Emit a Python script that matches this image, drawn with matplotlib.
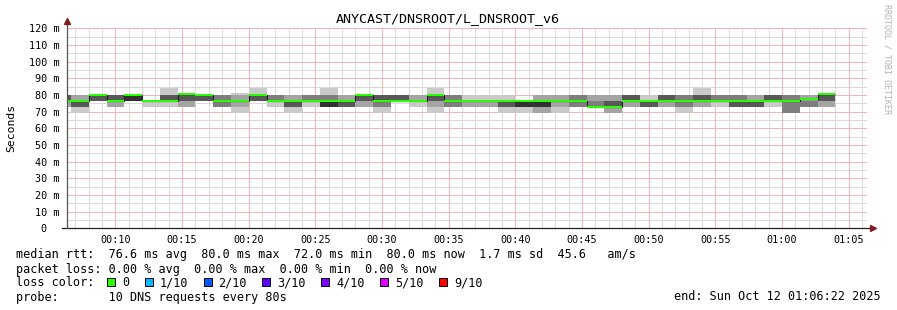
import matplotlib
matplotlib.use("Agg")
import matplotlib.pyplot as plt
from matplotlib.patches import Rectangle
import numpy as np

# ---------------- data ----------------
title = "ANYCAST/DNSROOT/L_DNSROOT_v6"
y_label = "Seconds"
view_start_s = 382          # 00:06:22
view_end_s = 3982           # 01:06:22
interval_start_s = 320      # first rrd step start (s after midnight)
step_s = 80

# sorted ping round-trip times (ms), rank 1 .. rank 10, one value per 80 s step
ping1 = [72.5, 69, 76.5, 72.5, 76.5, 72.5, 72.5, 72.5, 76.5, 72.5, 69, 76.5, 72.5, 69, 72.5, 72.5,
         72.5, 72.5, 69, 76.5, 72.5, 69, 72.5, 72.5, 72.5, 69, 69, 69, 69, 72.5, 72.5, 69,
         72.5, 72.5, 72.5, 69, 72.5, 72.5, 72.5, 72.5, 72.5, 69, 72.5, 72.5]
ping2 = [72.5, 72.5, 76.5, 72.5, 76.5, 76.5, 76.5, 72.5, 76.5, 72.5, 72.5, 76.5, 76.5, 72.5, 76.5, 72.5,
         72.5, 72.5, 72.5, 76.5, 76.5, 72.5, 72.5, 72.5, 72.5, 72.5, 72.5, 69, 72.5, 72.5, 72.5, 69,
         72.5, 72.5, 72.5, 72.5, 72.5, 76.5, 72.5, 72.5, 76.5, 69, 72.5, 72.5]
ping3 = [76.5, 72.5, 76.5, 76.5, 76.5, 76.5, 76.5, 76.5, 76.5, 72.5, 76.5, 76.5, 76.5, 72.5, 76.5, 72.5,
         72.5, 76.5, 72.5, 76.5, 76.5, 76.5, 72.5, 76.5, 76.5, 72.5, 72.5, 72.5, 76.5, 72.5, 72.5, 72.5,
         76.5, 72.5, 76.5, 72.5, 76.5, 76.5, 72.5, 72.5, 76.5, 69, 72.5, 76.5]
ping4 = [76.5, 72.5, 76.5, 76.5, 76.5, 76.5, 76.5, 76.5, 76.5, 76.5, 76.5, 76.5, 76.5, 72.5, 76.5, 72.5,
         72.5, 76.5, 76.5, 76.5, 76.5, 76.5, 76.5, 76.5, 76.5, 72.5, 72.5, 72.5, 76.5, 76.5, 72.5, 72.5,
         76.5, 72.5, 76.5, 76.5, 76.5, 76.5, 72.5, 72.5, 76.5, 76.5, 76.5, 76.5]
ping5 = [76.5, 76.5, 80, 76.5, 76.5, 76.5, 76.5, 80, 80, 76.5, 76.5, 80, 76.5, 76.5, 76.5, 72.5,
         76.5, 80, 76.5, 76.5, 76.5, 80, 76.5, 76.5, 76.5, 76.5, 72.5, 72.5, 76.5, 76.5, 72.5, 72.5,
         76.5, 76.5, 76.5, 76.5, 76.5, 76.5, 76.5, 76.5, 76.5, 76.5, 76.5, 80]
ping6 = [76.5, 76.5, 80, 76.5, 80, 76.5, 76.5, 80, 80, 76.5, 76.5, 80, 76.5, 76.5, 76.5, 76.5,
         76.5, 80, 76.5, 76.5, 76.5, 80, 76.5, 76.5, 76.5, 76.5, 76.5, 76.5, 76.5, 76.5, 72.5, 72.5,
         76.5, 76.5, 76.5, 76.5, 76.5, 76.5, 76.5, 76.5, 76.5, 76.5, 76.5, 80]
ping7 = [80, 76.5, 80, 80, 80, 76.5, 80, 80, 80, 76.5, 76.5, 80, 76.5, 76.5, 76.5, 76.5,
         76.5, 80, 80, 80, 76.5, 80, 76.5, 76.5, 76.5, 76.5, 76.5, 76.5, 76.5, 76.5, 72.5, 76.5,
         80, 76.5, 80, 76.5, 80, 76.5, 76.5, 76.5, 80, 76.5, 76.5, 80]
ping8 = [80, 76.5, 80, 80, 80, 76.5, 80, 80, 80, 80, 76.5, 80, 80, 76.5, 80, 80,
         76.5, 80, 80, 80, 76.5, 80, 80, 76.5, 76.5, 76.5, 76.5, 76.5, 76.5, 80, 76.5, 76.5,
         80, 76.5, 80, 80, 80, 80, 80, 76.5, 80, 80, 76.5, 80]
ping9 = [80, 80, 80, 80, 80, 76.5, 80, 80, 80, 80, 80, 80, 80, 80, 80, 80,
         80, 80, 80, 80, 80, 80, 80, 76.5, 76.5, 76.5, 76.5, 80, 80, 80, 80, 80,
         80, 76.5, 80, 80, 80, 80, 80, 80, 80, 80, 80, 80]
ping10 = [80, 80, 80, 80, 80, 76.5, 84, 80, 80, 80, 81, 84, 80, 80, 80, 84,
          80, 80, 80, 80, 80, 84, 80, 80, 80, 80, 76.5, 80, 80, 80, 80, 80,
          80, 80, 80, 80, 84, 80, 80, 80, 80, 80, 80, 80]
median_ms = [76.5, 76.5, 80, 76.5, 80, 76.5, 76.5, 80.5, 80, 76.5, 76.5, 80, 76.5, 76.5, 76.5, 76.5,
             76.5, 80, 76.5, 76.5, 76.5, 80, 76.5, 76.5, 76.5, 76.5, 76.5, 76.5, 76.5, 76.5, 72.5, 72.5,
             76.5, 76.5, 76.5, 76.5, 76.5, 76.5, 76.5, 76.5, 76.5, 76.5, 77.8, 80.5]

x_tick_s = [600, 900, 1200, 1500, 1800, 2100, 2400, 2700, 3000, 3300, 3600, 3900]
x_tick_labels = ["00:10", "00:15", "00:20", "00:25", "00:30", "00:35", "00:40",
                 "00:45", "00:50", "00:55", "01:00", "01:05"]
y_ticks = [0, 10, 20, 30, 40, 50, 60, 70, 80, 90, 100, 110, 120]
y_tick_labels = ["0  ", "10 m", "20 m", "30 m", "40 m", "50 m", "60 m", "70 m",
                 "80 m", "90 m", "100 m", "110 m", "120 m"]

legend_rtt = "median rtt:  76.6 ms avg  80.0 ms max  72.0 ms min  80.0 ms now  1.7 ms sd  45.6   am/s"
legend_loss = "packet loss: 0.00 % avg  0.00 % max  0.00 % min  0.00 % now"
legend_color_head = "loss color:"
loss_labels = ["0", "1/10", "2/10", "3/10", "4/10", "5/10", "9/10"]
loss_colors = ["#26ff00", "#00b8ff", "#0059ff", "#5e00ff", "#7e00ff", "#dd00ff", "#ff0000"]
legend_probe = "probe:       10 DNS requests every 80s"
legend_end = "end: Sun Oct 12 01:06:22 2025"
watermark = "RRDTOOL / TOBI OETIKER"

# ---------------- figure ----------------
W, H = 897, 310
MONO = "DejaVu Sans Mono"
plt.rcParams["font.family"] = [MONO]

fig = plt.figure(figsize=(W / 100, H / 100), dpi=100, facecolor="white")
x0, x1 = 67, 867
y_top, y_bot = 28.3, 228.3
ax = fig.add_axes([x0 / W, (H - y_bot) / H, (x1 - x0) / W, (y_bot - y_top) / H])
ax.set_facecolor("white")
ax.set_xlim(view_start_s, view_end_s)
ax.set_ylim(0, 120)

edges = interval_start_s + step_s * np.arange(len(median_ms) + 1)
pings = [np.array(p, dtype=float) for p in
         (ping1, ping2, ping3, ping4, ping5, ping6, ping7, ping8, ping9, ping10)]
med = np.array(median_ms, dtype=float)

# grid (dotted in the original; drawn as light lines of the same average tone)
minor_col = "#dadada"
major_col = "#f2b6b6"
gkw = dict(lw=0.72, ls="-", antialiased=False)
for t in range(420, view_end_s, 60):
    if t % 300:
        ax.axvline(t, color=minor_col, zorder=0, **gkw)
for v in range(5, 121, 10):
    ax.axhline(v, color=minor_col, zorder=0, **gkw)
for t in x_tick_s:
    ax.axvline(t, color=major_col, zorder=0.5, **gkw)
for v in y_ticks[1:]:
    ax.axhline(v, color=major_col, zorder=0.5, **gkw)

# smoke
half = len(pings) // 2
for i in range(half):
    g = int(190 / half * (half - (i + 1))) + 50
    col = "#%02x%02x%02x" % (g, g, g)
    ax.stairs(pings[-1 - i], edges, baseline=pings[i], fill=True, color=col, lw=0, zorder=2)

# median line + loss-coloured band
ax.stairs(med, edges, baseline=None, color="#202020", lw=0.8, zorder=3)
sw = 120 / 200.0
ax.stairs(med + sw, edges, baseline=med - sw, fill=True, color=loss_colors[0], lw=0, zorder=4)

# ticks
ax.set_xticks(x_tick_s)
ax.set_xticklabels(x_tick_labels, fontsize=7.3)
ax.set_yticks(y_ticks)
ax.set_yticklabels(y_tick_labels, fontsize=7.3)
ax.tick_params(axis="x", length=0, pad=4.5)
ax.tick_params(axis="y", length=0, pad=5.2)
for s in ax.spines.values():
    s.set_visible(False)

# axes lines and arrows
ax.plot([-5 / 800, 1.006], [0, 0], transform=ax.transAxes, color="#1f1f1f", lw=0.9,
        clip_on=False, zorder=5)
ax.plot([0, 0], [0, 1.03], transform=ax.transAxes, color="#555555", lw=0.9,
        clip_on=False, zorder=5)
ax.plot([1.0075], [0], transform=ax.transAxes, marker=">", ms=4, color="#801f1f",
        mec="#801f1f", clip_on=False, zorder=6)
ax.plot([0], [1.035], transform=ax.transAxes, marker="^", ms=4, color="#801f1f",
        mec="#801f1f", clip_on=False, zorder=6)

# texts
def fx(px):
    return px / W

def fy(py):
    return 1 - py / H

fig.text(fx(448), fy(19), title, ha="center", va="center", fontsize=9.6, family=MONO)
fig.text(fx(11), fy(128), y_label, ha="center", va="center", rotation=90, fontsize=8.2,
         family=MONO)
fig.text(fx(887), fy(4), watermark, ha="center", va="top", rotation=270, fontsize=6,
         color="#b3b3b3", family=MONO)

LEG = 8.5
CW = 7.1
fig.text(fx(16), fy(254.5), legend_rtt, ha="left", va="center", fontsize=LEG, family=MONO)
fig.text(fx(16), fy(269), legend_loss, ha="left", va="center", fontsize=LEG, family=MONO)
fig.text(fx(16), fy(283), legend_color_head, ha="left", va="center", fontsize=LEG, family=MONO)
fig.text(fx(16), fy(297), legend_probe, ha="left", va="center", fontsize=LEG, family=MONO)
fig.text(fx(881), fy(297), legend_end, ha="right", va="center", fontsize=LEG, family=MONO)

bx = 107.0
for lab, col in zip(loss_labels, loss_colors):
    fig.add_artist(Rectangle((fx(bx), fy(286)), 8 / W, 8 / H, transform=fig.transFigure,
                             facecolor=col, edgecolor="black", lw=0.7))
    lx = bx + 15
    fig.text(fx(lx), fy(283), lab, ha="left", va="center", fontsize=LEG, family=MONO)
    bx = lx + len(lab) * CW + 15.5

fig.savefig("out.png", dpi=100, facecolor="white")
